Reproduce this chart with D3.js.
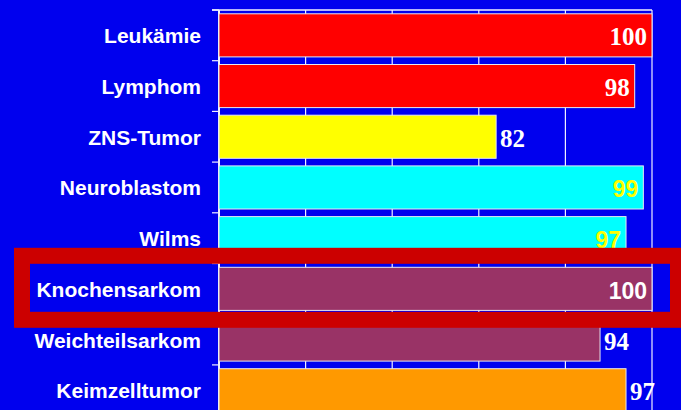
<!DOCTYPE html>
<html>
<head>
<meta charset="utf-8">
<script src="https://cdn.jsdelivr.net/npm/d3@7"></script>
<style>
  body { margin: 0; background: #0000ee; }
  svg { display: block; }
</style>
</head>
<body>
<svg id="chart" width="681" height="410"></svg>
<script>
// data
var categories = ["Leukämie", "Lymphom", "ZNS-Tumor", "Neuroblastom", "Wilms", "Knochensarkom", "Weichteilsarkom", "Keimzelltumor"];
var values = [100, 98, 82, 99, 97, 100, 94, 97];
var xTicks = [50, 60, 70, 80, 90, 100];

// styles per bar
var barColors = ["#ff0000", "#ff0000", "#ffff00", "#00ffff", "#00ffff", "#993366", "#993366", "#ff9900"];
var labelColors = ["#ffffff", "#ffffff", "#ffffff", "#ffff00", "#ffff00", "#ffffff", "#ffffff", "#ffffff"];
var labelSans = [false, false, false, true, true, true, false, false];
var labelInside = [true, true, false, true, true, true, false, false];

var width = 681, height = 410;
var margin = {top: 10, left: 219, right: 29};
var step = 50.7;

var svg = d3.select("#chart");

var xScale = d3.scaleLinear()
  .domain([50, 100])
  .range([margin.left, width - margin.right]);

var yScale = d3.scaleBand()
  .domain(categories)
  .range([margin.top, margin.top + step * categories.length])
  .paddingInner(0.15)
  .paddingOuter(0.075);

var gridColor = "#f0f0ff";

// vertical grid lines
svg.append("g")
  .selectAll("line")
  .data(xTicks)
  .enter()
  .append("line")
    .attr("x1", function(d) { return xScale(d); })
    .attr("x2", function(d) { return xScale(d); })
    .attr("y1", margin.top)
    .attr("y2", height)
    .attr("stroke", gridColor)
    .attr("stroke-width", function(d, i) { return i == 0 ? 2 : 1.2; });

// top line
svg.append("line")
  .attr("x1", margin.left - 7)
  .attr("x2", xScale(100))
  .attr("y1", margin.top)
  .attr("y2", margin.top)
  .attr("stroke", gridColor)
  .attr("stroke-width", 1.5);

// category ticks on the left axis
svg.append("g")
  .selectAll("line")
  .data(d3.range(categories.length + 1))
  .enter()
  .append("line")
    .attr("x1", margin.left - 7)
    .attr("x2", margin.left)
    .attr("y1", function(i) { return margin.top + i * yScale.step(); })
    .attr("y2", function(i) { return margin.top + i * yScale.step(); })
    .attr("stroke", gridColor)
    .attr("stroke-width", 1.2);

// bars
var bars = svg.append("g")
  .selectAll("g")
  .data(categories)
  .enter()
  .append("g");

bars.append("rect")
  .attr("x", xScale.range()[0])
  .attr("y", function(d) { return yScale(d); })
  .attr("width", function(d, i) { return xScale(values[i]) - xScale.range()[0]; })
  .attr("height", yScale.bandwidth())
  .attr("fill", function(d, i) { return barColors[i]; })
  .attr("stroke", "#e8e8f0")
  .attr("stroke-width", 1);

// value labels
bars.append("text")
  .attr("x", function(d, i) { return labelInside[i] ? xScale(values[i]) - 5 : xScale(values[i]) + 4; })
  .attr("y", function(d) { return yScale(d) + yScale.bandwidth() / 2 + 10; })
  .attr("text-anchor", function(d, i) { return labelInside[i] ? "end" : "start"; })
  .attr("fill", function(d, i) { return labelColors[i]; })
  .style("font-family", function(d, i) { return labelSans[i] ? "'Liberation Sans', Arial, sans-serif" : "'Liberation Serif', 'Times New Roman', serif"; })
  .style("font-size", function(d, i) { return labelSans[i] ? "23px" : "25px"; })
  .style("font-weight", "bold")
  .text(function(d, i) { return values[i]; });

// category labels
svg.append("g")
  .selectAll("text")
  .data(categories)
  .enter()
  .append("text")
    .attr("x", 201)
    .attr("y", function(d) { return yScale(d) + yScale.bandwidth() / 2 + 8; })
    .attr("text-anchor", "end")
    .attr("fill", "#ffffff")
    .style("font-family", "'Liberation Sans', Arial, sans-serif")
    .style("font-size", "21px")
    .style("font-weight", "bold")
    .text(function(d) { return d; });

// highlight box around Knochensarkom
var hi = yScale("Knochensarkom");
svg.append("rect")
  .attr("x", 22)
  .attr("y", hi - 11.5)
  .attr("width", 656)
  .attr("height", 64)
  .attr("fill", "none")
  .attr("stroke", "#cc0000")
  .attr("stroke-width", 16);
</script>
</body>
</html>
